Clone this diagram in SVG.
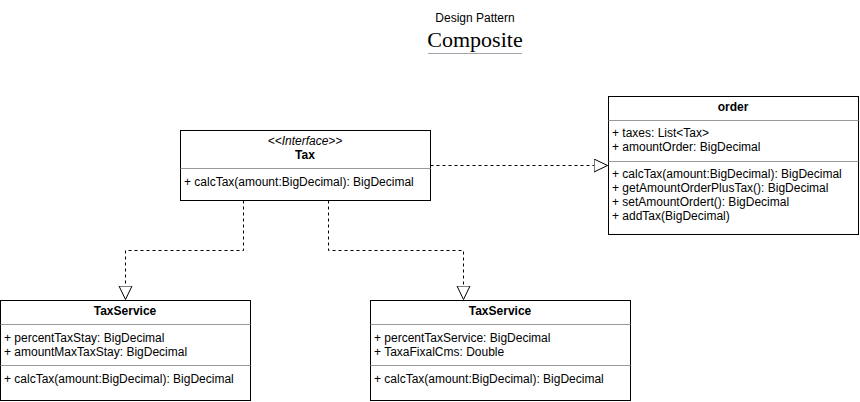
<svg xmlns="http://www.w3.org/2000/svg" width="860" height="402" viewBox="0 0 860 402">
<style>
text{font-family:"Liberation Sans",Arial,sans-serif;font-size:12px;fill:#000}
.b{font-weight:bold}
.c{text-anchor:middle}
.box{fill:#fff;stroke:#000;stroke-width:1}
.div{stroke:#9a9a9a;stroke-width:1}
.edge{fill:none;stroke:#000;stroke-width:1;stroke-dasharray:3 3}
</style>
<defs>
<marker id="tri" markerWidth="16" markerHeight="16" refX="14" refY="7" orient="auto" markerUnits="userSpaceOnUse">
<path d="M0.5,0.5 L14,7 L0.5,13.5 Z" fill="#fff" stroke="#000" stroke-width="1"/>
</marker>
</defs>
<rect width="860" height="402" fill="#fff"/>
<g id="title">
<text x="475" y="22" class="c">Design Pattern</text>
<text x="475" y="47" class="c" style="font-family:'Liberation Serif','Times New Roman',serif;font-size:22px">Composite</text>
<line x1="428" y1="53.5" x2="522" y2="53.5" stroke="#a0a4ad" stroke-width="1"/>
</g>
<g id="connectors">
<path class="edge" d="M430.5,165.5 H607.5" marker-end="url(#tri)"/>
<path class="edge" d="M243.5,200.5 V250.5 H125.5 V299.5" marker-end="url(#tri)"/>
<path class="edge" d="M328.5,200.5 V250.5 H463.5 V299.5" marker-end="url(#tri)"/>
</g>
<g id="tax">
<rect class="box" x="180.5" y="130.5" width="250" height="70"/>
<line class="div" x1="180.5" y1="168.5" x2="430.5" y2="168.5"/>
<text x="305" y="145" class="c" font-style="italic">&lt;&lt;Interface&gt;&gt;</text>
<text x="305" y="159" class="c b">Tax</text>
<text x="184" y="186">+ calcTax(amount:BigDecimal): BigDecimal</text>
</g>
<g id="order">
<rect class="box" x="608.5" y="96.5" width="250" height="138"/>
<line class="div" x1="608.5" y1="120.5" x2="858.5" y2="120.5"/>
<line class="div" x1="608.5" y1="161.5" x2="858.5" y2="161.5"/>
<text x="733" y="111" class="c b">order</text>
<text x="612" y="137">+ taxes: List&lt;Tax&gt;</text>
<text x="612" y="151">+ amountOrder: BigDecimal</text>
<text x="612" y="178">+ calcTax(amount:BigDecimal): BigDecimal</text>
<text x="612" y="192">+ getAmountOrderPlusTax(): BigDecimal</text>
<text x="612" y="206">+ setAmountOrdert(): BigDecimal</text>
<text x="612" y="220">+ addTax(BigDecimal)</text>
</g>
<g id="taxServiceStay">
<rect class="box" x="0.5" y="300.5" width="250" height="100"/>
<line class="div" x1="0.5" y1="324.5" x2="250.5" y2="324.5"/>
<line class="div" x1="0.5" y1="365.5" x2="250.5" y2="365.5"/>
<text x="125" y="315" class="c b">TaxService</text>
<text x="4" y="342">+ percentTaxStay: BigDecimal</text>
<text x="4" y="356">+ amountMaxTaxStay: BigDecimal</text>
<text x="4" y="383">+ calcTax(amount:BigDecimal): BigDecimal</text>
</g>
<g id="taxServiceService">
<rect class="box" x="370.5" y="300.5" width="260" height="100"/>
<line class="div" x1="370.5" y1="324.5" x2="630.5" y2="324.5"/>
<line class="div" x1="370.5" y1="365.5" x2="630.5" y2="365.5"/>
<text x="500" y="315" class="c b">TaxService</text>
<text x="374" y="342">+ percentTaxService: BigDecimal</text>
<text x="374" y="356">+ TaxaFixalCms: Double</text>
<text x="374" y="383">+ calcTax(amount:BigDecimal): BigDecimal</text>
</g>
</svg>
